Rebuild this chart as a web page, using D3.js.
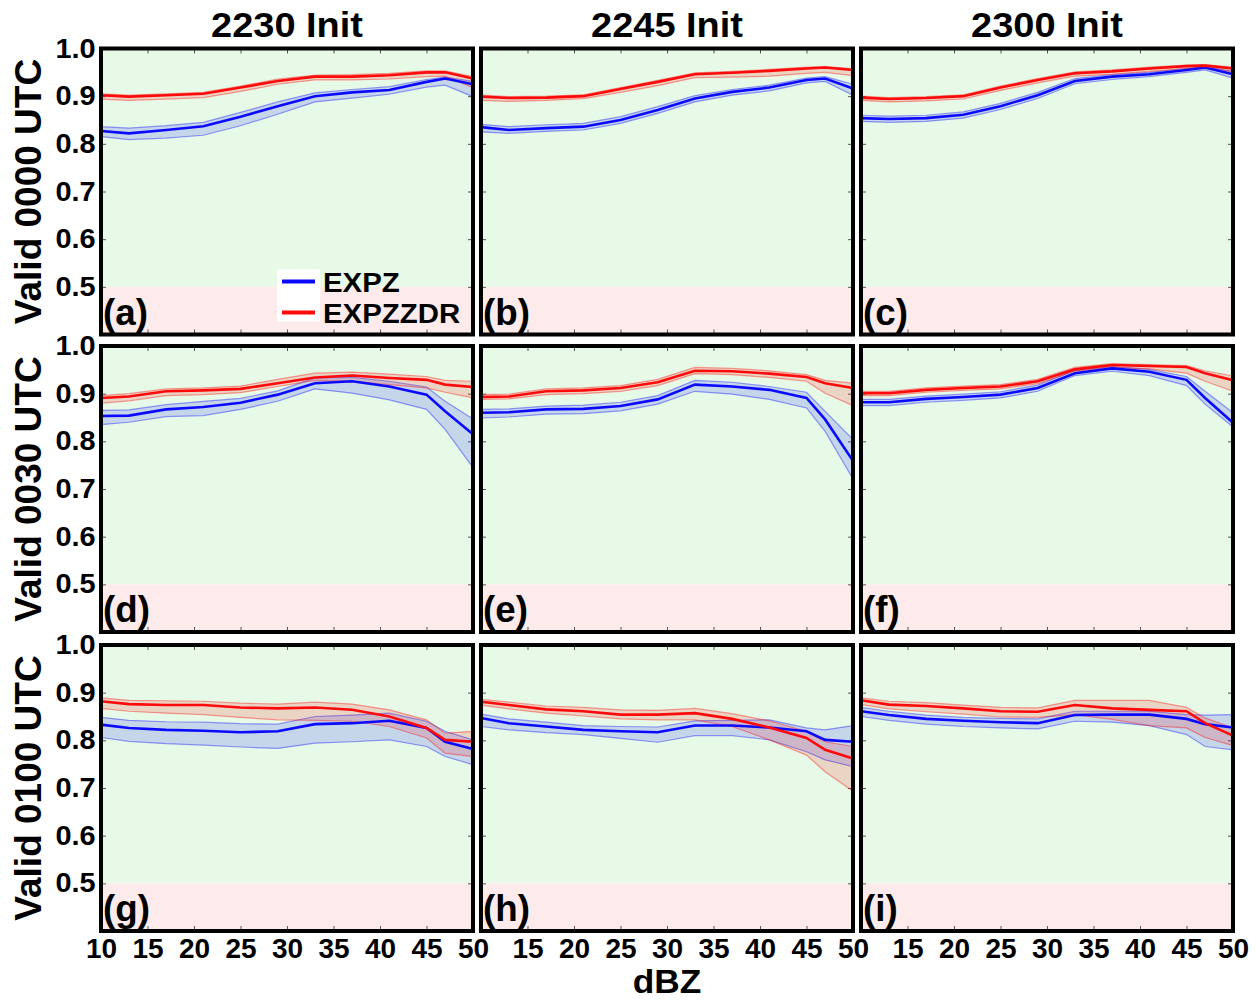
<!DOCTYPE html>
<html>
<head>
<meta charset="utf-8">
<script src="https://cdn.jsdelivr.net/npm/d3@7"></script>
<style>
  body { margin: 0; background: #fff; }
  text { font-family: "Liberation Sans", Arial, sans-serif; font-weight: bold; fill: #000; }
</style>
</head>
<body>
<script>
// reflectivity bins (dBZ)
var dbz = [10, 13, 17, 21, 25, 29, 33, 37, 41, 45, 47, 50];

var initTimes = ["2230 Init", "2245 Init", "2300 Init"];
var validTimes = ["Valid 0000 UTC", "Valid 0030 UTC", "Valid 0100 UTC"];
var panelLabels = ["(a)", "(b)", "(c)", "(d)", "(e)", "(f)", "(g)", "(h)", "(i)"];
var seriesNames = ["EXPZ", "EXPZZDR"];
var xTicks = [10, 15, 20, 25, 30, 35, 40, 45, 50];
var yTicks = [0.5, 0.6, 0.7, 0.8, 0.9, 1.0];

// (a) 2230 init, valid 0000
var a_z    = [.827,.822,.829,.837,.857,.879,.900,.908,.913,.930,.937,.925];
var a_zhi  = [.836,.833,.838,.845,.866,.888,.907,.914,.920,.935,.940,.931];
var a_zlo  = [.815,.809,.812,.818,.838,.862,.888,.896,.904,.919,.923,.899];
var a_zd   = [.902,.899,.902,.905,.918,.932,.941,.941,.944,.950,.950,.937];
var a_zdhi = [.905,.902,.905,.908,.921,.936,.944,.945,.948,.953,.953,.941];
var a_zdlo = [.894,.891,.894,.897,.910,.925,.934,.934,.936,.941,.942,.918];

// (b) 2245 init, valid 0000
var b_z    = [.835,.829,.833,.836,.850,.871,.895,.909,.918,.934,.937,.916];
var b_zhi  = [.841,.836,.840,.843,.857,.878,.901,.914,.923,.938,.941,.925];
var b_zlo  = [.825,.822,.826,.829,.843,.864,.888,.902,.911,.928,.931,.902];
var b_zd   = [.899,.896,.897,.900,.915,.930,.946,.949,.953,.958,.960,.955];
var b_zdhi = [.902,.899,.900,.903,.918,.933,.949,.952,.956,.961,.962,.958];
var b_zdlo = [.891,.889,.891,.895,.908,.922,.939,.940,.942,.948,.950,.943];

// (c) 2300 init, valid 0000
var c_z    = [.854,.852,.854,.861,.879,.902,.932,.941,.946,.955,.960,.946];
var c_zhi  = [.860,.858,.860,.867,.885,.908,.937,.945,.950,.958,.962,.952];
var c_zlo  = [.847,.845,.847,.854,.872,.895,.926,.935,.941,.950,.955,.938];
var c_zd   = [.897,.894,.896,.900,.918,.934,.948,.952,.958,.963,.964,.958];
var c_zdhi = [.900,.897,.899,.903,.921,.937,.951,.955,.961,.965,.966,.961];
var c_zdlo = [.891,.888,.890,.894,.912,.928,.942,.946,.952,.958,.960,.951];

// (d) 2230 init, valid 0030
var d_z    = [.853,.854,.867,.872,.881,.898,.922,.926,.915,.898,.863,.815];
var d_zhi  = [.865,.866,.877,.884,.890,.906,.933,.934,.926,.914,.884,.847];
var d_zlo  = [.835,.840,.852,.854,.867,.884,.910,.901,.887,.867,.825,.745];
var d_zd   = [.891,.894,.905,.907,.910,.922,.934,.938,.933,.929,.919,.914];
var d_zdhi = [.896,.900,.910,.912,.916,.930,.943,.945,.941,.936,.928,.926];
var d_zdlo = [.880,.885,.896,.898,.902,.915,.928,.926,.919,.912,.903,.891];

// (e) 2245 init, valid 0030
var e_z    = [.860,.861,.867,.868,.874,.888,.919,.915,.908,.891,.846,.759];
var e_zhi  = [.867,.868,.874,.876,.882,.896,.928,.924,.915,.903,.863,.804];
var e_zlo  = [.849,.851,.857,.858,.864,.878,.905,.899,.888,.870,.821,.721];
var e_zd   = [.893,.894,.905,.907,.912,.924,.948,.947,.942,.935,.922,.912];
var e_zdhi = [.898,.899,.910,.912,.917,.930,.955,.953,.948,.940,.928,.922];
var e_zdlo = [.888,.889,.898,.900,.905,.917,.942,.940,.934,.926,.901,.875];

// (f) 2300 init, valid 0030
var f_z    = [.882,.882,.889,.893,.898,.912,.943,.953,.946,.929,.891,.839];
var f_zhi  = [.888,.888,.895,.899,.904,.918,.949,.957,.951,.936,.905,.860];
var f_zlo  = [.875,.875,.882,.886,.891,.905,.938,.947,.938,.917,.878,.830];
var f_zd   = [.901,.901,.908,.912,.915,.926,.951,.960,.958,.956,.943,.928];
var f_zdhi = [.905,.905,.912,.916,.919,.930,.955,.963,.961,.959,.948,.937];
var f_zdlo = [.896,.896,.903,.907,.910,.921,.947,.955,.952,.943,.926,.905];

// (g) 2230 init, valid 0100
var g_z    = [.833,.826,.822,.820,.817,.819,.834,.836,.841,.826,.797,.782];
var g_zhi  = [.848,.842,.839,.838,.835,.834,.850,.853,.857,.840,.819,.801];
var g_zlo  = [.806,.798,.793,.790,.786,.783,.794,.797,.801,.787,.766,.749];
var g_zd   = [.882,.876,.874,.874,.869,.867,.869,.864,.850,.826,.801,.797];
var g_zdhi = [.889,.884,.883,.882,.878,.876,.880,.876,.864,.843,.815,.819];
var g_zdlo = [.867,.861,.857,.854,.848,.843,.842,.840,.829,.805,.773,.766];

// (h) 2245 init, valid 0100
var h_z    = [.847,.836,.829,.822,.819,.817,.831,.831,.827,.819,.801,.797];
var h_zhi  = [.855,.845,.838,.831,.829,.828,.841,.842,.843,.826,.822,.831];
var h_zlo  = [.829,.822,.816,.812,.804,.796,.810,.810,.801,.776,.759,.745];
var h_zd   = [.881,.874,.865,.861,.854,.854,.857,.845,.827,.805,.780,.762];
var h_zdhi = [.886,.880,.872,.869,.864,.863,.867,.856,.841,.819,.797,.787];
var h_zdlo = [.874,.866,.857,.851,.845,.843,.843,.829,.801,.769,.734,.693];

// (i) 2300 init, valid 0100
var i_z    = [.861,.853,.845,.841,.838,.836,.853,.854,.854,.845,.834,.827];
var i_zhi  = [.869,.861,.853,.848,.846,.845,.861,.861,.861,.854,.853,.854];
var i_zlo  = [.850,.842,.834,.829,.826,.824,.840,.838,.831,.812,.787,.780];
var i_zd   = [.884,.875,.872,.867,.861,.860,.874,.867,.864,.861,.836,.810];
var i_zdhi = [.889,.882,.879,.874,.869,.868,.884,.884,.884,.869,.847,.826];
var i_zdlo = [.875,.866,.860,.855,.849,.848,.854,.844,.831,.826,.806,.789];

// one entry per panel, row-major
var panels = [
  [[a_z, a_zlo, a_zhi], [a_zd, a_zdlo, a_zdhi]],
  [[b_z, b_zlo, b_zhi], [b_zd, b_zdlo, b_zdhi]],
  [[c_z, c_zlo, c_zhi], [c_zd, c_zdlo, c_zdhi]],
  [[d_z, d_zlo, d_zhi], [d_zd, d_zdlo, d_zdhi]],
  [[e_z, e_zlo, e_zhi], [e_zd, e_zdlo, e_zdhi]],
  [[f_z, f_zlo, f_zhi], [f_zd, f_zdlo, f_zdhi]],
  [[g_z, g_zlo, g_zhi], [g_zd, g_zdlo, g_zdhi]],
  [[h_z, h_zlo, h_zhi], [h_zd, h_zdlo, h_zdhi]],
  [[i_z, i_zlo, i_zhi], [i_zd, i_zdlo, i_zdhi]]
];

var colors = ["#0a0aff", "#ff0a0a"];

// manually set panel positions
var colX = [101, 481, 861],
    rowY = [48.5, 346, 645],
    width = 372,
    height = 286;

// setup x scale
var x = d3.scaleLinear()
    .domain([10, 50])
    .range([0, width]);

// setup y scale
var y = d3.scaleLinear()
    .domain([0.4, 1.0])
    .range([height, 0]);

var line = d3.line()
    .x(function(d, i) { return x(dbz[i]); })
    .y(function(d) { return y(d); });

var band = d3.area()
    .x(function(d, i) { return x(dbz[i]); })
    .y0(function(d) { return y(d[0]); })
    .y1(function(d) { return y(d[1]); });

var svg = d3.select("body")
  .append("svg")
    .attr("width", 1257)
    .attr("height", 1004);

// the original lettering is a little wider than Liberation Sans
function wideText(sel, px, py, sx) {
  return sel.append("text")
      .attr("transform", "translate(" + px + "," + py + ") scale(" + sx + ",1)");
}

panels.forEach(function(p, k) {
  var row = Math.floor(k / 3), col = k % 3;
  var g = svg.append("g")
      .attr("transform", "translate(" + colX[col] + "," + rowY[row] + ")");

  // background: skill zone vs no-skill zone
  g.append("rect")
      .attr("x", 0).attr("width", width)
      .attr("y", y(1.0)).attr("height", y(0.5) - y(1.0))
      .attr("fill", "#e7fae7");
  g.append("rect")
      .attr("x", 0).attr("width", width)
      .attr("y", y(0.5)).attr("height", y(0.4) - y(0.5))
      .attr("fill", "#fcebea");

  // inward ticks on all four sides
  var tickSets = [
    [d3.axisTop(x).tickValues(xTicks.slice(1, -1)), 0, 0],
    [d3.axisBottom(x).tickValues(xTicks.slice(1, -1)), 0, height],
    [d3.axisLeft(y).tickValues(yTicks.slice(0, -1)), 0, 0],
    [d3.axisRight(y).tickValues(yTicks.slice(0, -1)), width, 0]
  ];
  tickSets.forEach(function(t) {
    var a = g.append("g")
        .attr("transform", "translate(" + t[1] + "," + t[2] + ")")
        .call(t[0].tickSize(-5).tickFormat(""));
    a.select(".domain").remove();
    a.selectAll("line").attr("stroke", "#555");
  });

  // uncertainty bands then mean lines
  p.forEach(function(s, j) {
    var pts = d3.zip(s[1], s[2]);
    g.append("path")
        .attr("d", band(pts))
        .attr("fill", colors[j])
        .attr("fill-opacity", 0.15)
        .attr("stroke", "none");
    g.append("path")
        .attr("d", line(s[1]))
        .attr("fill", "none")
        .attr("stroke", colors[j])
        .attr("stroke-opacity", 0.4)
        .attr("stroke-width", 1.2);
    g.append("path")
        .attr("d", line(s[2]))
        .attr("fill", "none")
        .attr("stroke", colors[j])
        .attr("stroke-opacity", 0.4)
        .attr("stroke-width", 1.2);
  });
  p.forEach(function(s, j) {
    g.append("path")
        .attr("d", line(s[0]))
        .attr("fill", "none")
        .attr("stroke", colors[j])
        .attr("stroke-width", 2.6);
  });

  // panel letter
  wideText(g, 2, height - 10, 1.02)
      .style("font-size", "36px")
      .text(panelLabels[k]);

  // frame
  g.append("rect")
      .attr("width", width)
      .attr("height", height)
      .attr("fill", "none")
      .attr("stroke", "#000")
      .attr("stroke-width", 4);

  // y tick labels on left column
  if (col === 0) {
    var ya = g.append("g")
        .call(d3.axisLeft(y).tickValues(yTicks).tickSize(0).tickPadding(5)
          .tickFormat(d3.format(".1f")));
    ya.select(".domain").remove();
    ya.selectAll("text")
        .attr("font-family", null)
        .attr("transform", "scale(1.07,1)")
        .style("font-size", "27px");
  }

  // x tick labels on bottom row
  if (row === 2) {
    var xa = g.append("g")
        .attr("transform", "translate(0," + height + ")")
        .call(d3.axisBottom(x).tickValues(col === 0 ? xTicks : xTicks.slice(1))
          .tickSize(0).tickPadding(7).tickFormat(d3.format("d")));
    xa.select(".domain").remove();
    xa.selectAll("text")
        .attr("font-family", null)
        .style("font-size", "28px");
  }

  // legend in first panel
  if (k === 0) {
    var lg = g.append("g").attr("transform", "translate(176,221)");
    lg.append("rect")
        .attr("width", 43).attr("height", 52)
        .attr("fill", "#fff");
    seriesNames.forEach(function(name, j) {
      var ly = 12 + j * 31;
      lg.append("line")
          .attr("x1", 5).attr("x2", 38)
          .attr("y1", ly).attr("y2", ly)
          .attr("stroke", colors[j])
          .attr("stroke-width", 4);
      wideText(lg, 46, ly + 10, 1.05)
          .style("font-size", "28px")
          .text(name);
    });
  }
});

// column titles
initTimes.forEach(function(t, c) {
  wideText(svg, colX[c] + width / 2, 37, 1.085)
      .attr("text-anchor", "middle")
      .style("font-size", "35px")
      .text(t);
});

// row titles
validTimes.forEach(function(t, r) {
  svg.append("text")
      .attr("transform", "translate(41," + (rowY[r] + height / 2) + ") rotate(-90)")
      .attr("text-anchor", "middle")
      .style("font-size", "37px")
      .text(t);
});

// x axis title
wideText(svg, 667, 993, 1.07)
    .attr("text-anchor", "middle")
    .style("font-size", "33px")
    .text("dBZ");
</script>
</body>
</html>
